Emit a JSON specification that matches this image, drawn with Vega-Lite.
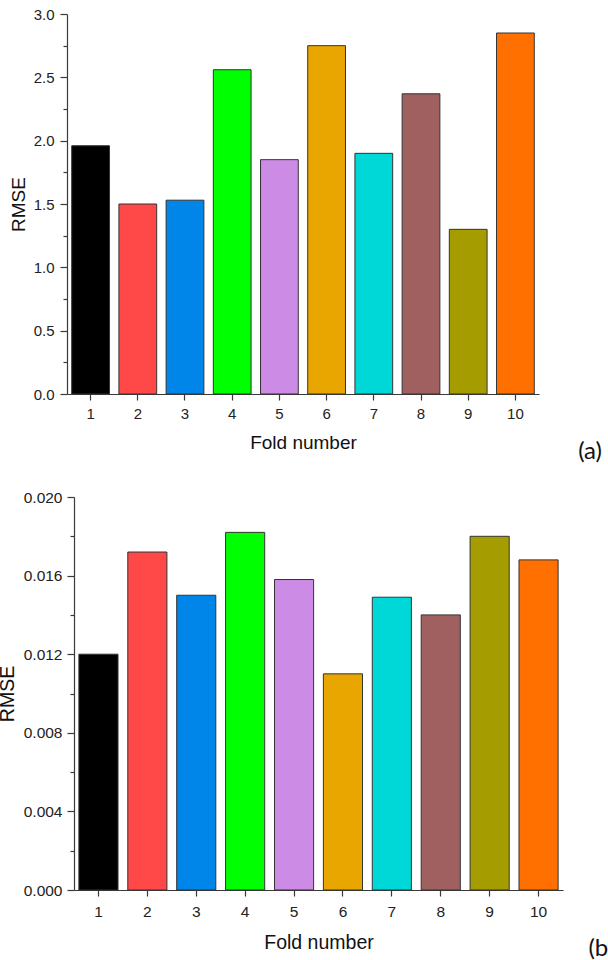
{
  "$schema": "https://vega.github.io/schema/vega-lite/v6.json",
  "background": "white",
  "padding": {"left": -3, "top": 7, "right": 0, "bottom": 0},
  "spacing": 26,
  "config": {
    "view": {"stroke": null},
    "font": "Liberation Sans",
    "axis": {
      "grid": false,
      "domainColor": "#3a3a3a",
      "tickColor": "#3a3a3a",
      "domainWidth": 1.2,
      "tickWidth": 1.2,
      "labelColor": "#222222",
      "titleColor": "#111111",
      "labelFont": "Liberation Sans",
      "titleFont": "Liberation Sans",
      "titleFontWeight": "normal"
    },
    "title": {"font": "Lato", "fontWeight": "normal", "color": "#111111"}
  },
  "vconcat": [
    {
      "width": 472,
      "height": 380,
      "title": {"text": "(a)", "orient": "bottom", "anchor": "end", "frame": "group", "fontSize": 24, "offset": -12, "dx": 63},
      "data": {
        "values": [
          {"fold": 1, "rmse": 1.96},
          {"fold": 2, "rmse": 1.50},
          {"fold": 3, "rmse": 1.53},
          {"fold": 4, "rmse": 2.56},
          {"fold": 5, "rmse": 1.85},
          {"fold": 6, "rmse": 2.75},
          {"fold": 7, "rmse": 1.90},
          {"fold": 8, "rmse": 2.37},
          {"fold": 9, "rmse": 1.30},
          {"fold": 10, "rmse": 2.85}
        ]
      },
      "mark": {"type": "bar", "stroke": "#333333", "strokeWidth": 1},
      "encoding": {
        "x": {
          "field": "fold",
          "type": "ordinal",
          "scale": {"paddingInner": 0.2, "paddingOuter": 0.1},
          "axis": {
            "title": "Fold number",
            "labelAngle": 0,
            "tickSize": 6,
            "labelPadding": 6,
            "labelFontSize": 15,
            "titleFontSize": 19,
            "titlePadding": 12
          }
        },
        "y": {
          "field": "rmse",
          "type": "quantitative",
          "scale": {"domain": [0, 3], "nice": false},
          "axis": {
            "title": "RMSE",
            "values": [0, 0.25, 0.5, 0.75, 1, 1.25, 1.5, 1.75, 2, 2.25, 2.5, 2.75, 3],
            "format": ".1f",
            "labelExpr": "round(datum.value * 4) % 2 == 1 ? '' : datum.label",
            "tickSize": {"condition": {"test": "round(datum.value * 4) % 2 == 1", "value": 4}, "value": 7},
            "labelPadding": 6,
            "labelFontSize": 15,
            "titleFontSize": 19,
            "titlePadding": 5
          }
        },
        "color": {
          "field": "fold",
          "type": "ordinal",
          "legend": null,
          "scale": {"range": ["#000000", "#FF4848", "#0086E8", "#00FF00", "#CC8CE6", "#E9A500", "#00D7D7", "#A06060", "#A59C00", "#FF7000"]}
        }
      }
    },
    {
      "width": 496,
      "height": 393,
      "title": {"text": "(b)", "orient": "bottom", "anchor": "end", "frame": "group", "fontSize": 24, "offset": -15, "dx": 51},
      "data": {
        "values": [
          {"fold": 1, "rmse": 0.0120},
          {"fold": 2, "rmse": 0.0172},
          {"fold": 3, "rmse": 0.0150},
          {"fold": 4, "rmse": 0.0182},
          {"fold": 5, "rmse": 0.0158},
          {"fold": 6, "rmse": 0.0110},
          {"fold": 7, "rmse": 0.0149},
          {"fold": 8, "rmse": 0.0140},
          {"fold": 9, "rmse": 0.0180},
          {"fold": 10, "rmse": 0.0168}
        ]
      },
      "mark": {"type": "bar", "stroke": "#333333", "strokeWidth": 1},
      "encoding": {
        "x": {
          "field": "fold",
          "type": "ordinal",
          "scale": {"paddingInner": 0.2, "paddingOuter": 0.1, "range": [7, 496]},
          "axis": {
            "title": "Fold number",
            "labelAngle": 0,
            "tickSize": 6,
            "labelPadding": 8,
            "labelFontSize": 15.5,
            "titleFontSize": 19.5,
            "titlePadding": 14
          }
        },
        "y": {
          "field": "rmse",
          "type": "quantitative",
          "scale": {"domain": [0, 0.02], "nice": false},
          "axis": {
            "title": "RMSE",
            "offset": -7,
            "values": [0, 0.002, 0.004, 0.006, 0.008, 0.01, 0.012, 0.014, 0.016, 0.018, 0.02],
            "format": ".3f",
            "labelExpr": "round(datum.value * 1000) % 4 == 2 ? '' : datum.label",
            "tickSize": {"condition": {"test": "round(datum.value * 1000) % 4 == 2", "value": 4}, "value": 7},
            "labelPadding": 5,
            "labelFontSize": 15.5,
            "titleFontSize": 19.5,
            "titlePadding": 6
          }
        },
        "color": {
          "field": "fold",
          "type": "ordinal",
          "legend": null,
          "scale": {"range": ["#000000", "#FF4848", "#0086E8", "#00FF00", "#CC8CE6", "#E9A500", "#00D7D7", "#A06060", "#A59C00", "#FF7000"]}
        }
      }
    }
  ]
}
